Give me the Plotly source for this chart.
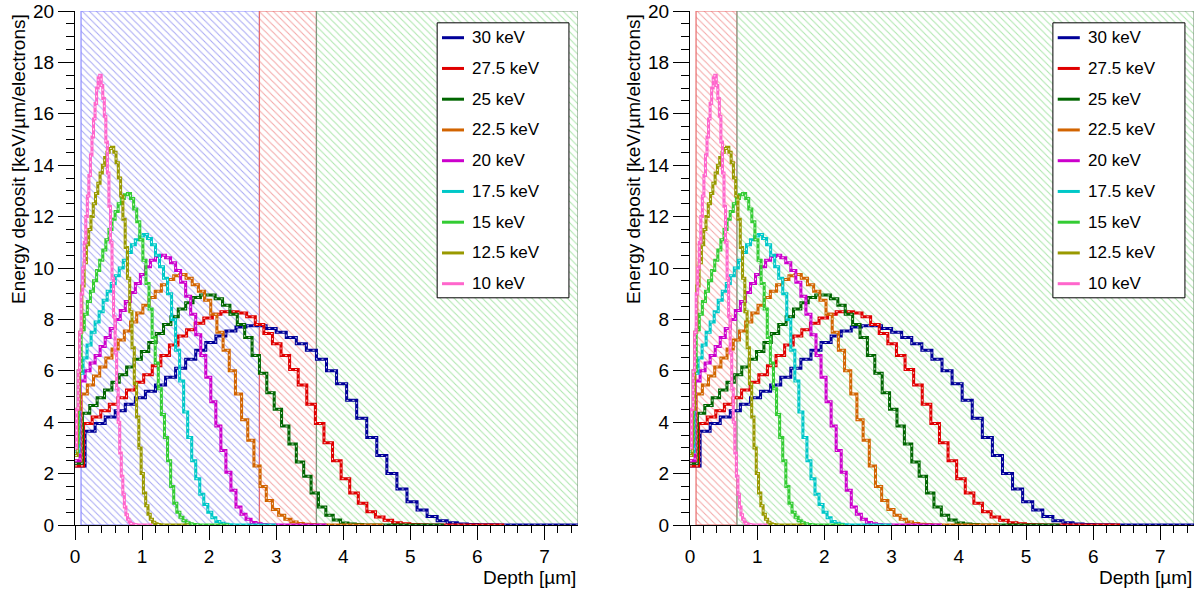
import plotly.graph_objects as go

# ---------------- data ----------------
energies = ["30 keV", "27.5 keV", "25 keV", "22.5 keV", "20 keV",
            "17.5 keV", "15 keV", "12.5 keV", "10 keV"]
colors = ["#000099", "#e00000", "#006600", "#d26400", "#cc00cc",
          "#00c8c8", "#33cc33", "#999900", "#ff66cc"]
# histogram bin widths (um), 50 bins each
bin_widths = [0.15, 0.128, 0.11, 0.092, 0.075, 0.06, 0.046, 0.034, 0.023]

dep_30 = [2.3, 3.65, 3.95, 4.2, 4.45, 4.7, 4.95, 5.2, 5.45, 5.75,
          6.1, 6.45, 6.8, 7.1, 7.35, 7.55, 7.7, 7.75, 7.75, 7.65,
          7.5, 7.3, 7.05, 6.8, 6.45, 6.0, 5.5, 4.85, 4.15, 3.4,
          2.7, 2.0, 1.4, 0.9, 0.58, 0.33, 0.17, 0.085, 0.04, 0.02,
          0.01, 0.005, 0, 0, 0, 0, 0, 0, 0, 0]
dep_27_5 = [2.3, 3.95, 4.2, 4.45, 4.7, 4.95, 5.25, 5.55, 5.85, 6.2,
            6.6, 7.0, 7.35, 7.6, 7.85, 8.05, 8.2, 8.3, 8.3, 8.25,
            8.1, 7.8, 7.45, 7.05, 6.6, 6.05, 5.45, 4.7, 3.95, 3.2,
            2.5, 1.8, 1.25, 0.85, 0.52, 0.31, 0.18, 0.09, 0.045, 0.02,
            0.01, 0, 0, 0, 0, 0, 0, 0, 0, 0]
dep_25 = [2.4, 4.35, 4.65, 4.95, 5.25, 5.55, 5.85, 6.15, 6.45, 6.75,
          7.1, 7.45, 7.8, 8.1, 8.4, 8.65, 8.85, 8.95, 8.95, 8.8,
          8.55, 8.2, 7.8, 7.3, 6.6, 5.9, 5.15, 4.5, 3.85, 3.15,
          2.45, 1.9, 1.25, 0.7, 0.38, 0.19, 0.08, 0.035, 0.015, 0,
          0, 0, 0, 0, 0, 0, 0, 0, 0, 0]
dep_22_5 = [2.5, 5.1, 5.45, 5.8, 6.15, 6.5, 6.85, 7.2, 7.55, 7.9,
            8.25, 8.55, 8.85, 9.1, 9.35, 9.55, 9.7, 9.75, 9.6, 9.35,
            9.1, 8.75, 8.2, 7.5, 6.8, 6.0, 5.1, 4.1, 3.3, 2.3,
            1.5, 0.95, 0.6, 0.38, 0.22, 0.12, 0.06, 0.03, 0.015, 0,
            0, 0, 0, 0, 0, 0, 0, 0, 0, 0]
dep_20 = [2.5, 5.6, 6.0, 6.3, 6.6, 6.95, 7.3, 7.65, 8.0, 8.35,
          8.7, 9.05, 9.4, 9.75, 10.05, 10.3, 10.45, 10.5, 10.4, 10.2,
          9.9, 9.45, 8.9, 8.2, 7.4, 6.6, 5.75, 4.8, 3.85, 2.9,
          2.05, 1.35, 0.7, 0.42, 0.22, 0.1, 0.05, 0.02, 0, 0,
          0, 0, 0, 0, 0, 0, 0, 0, 0, 0]
dep_17_5 = [2.85, 5.9, 6.5, 7.0, 7.5, 7.9, 8.3, 8.75, 9.1, 9.4,
            9.7, 10.0, 10.3, 10.6, 10.9, 11.1, 11.25, 11.3, 11.15, 10.9,
            10.5, 10.05, 9.6, 9.0, 8.0, 6.8, 5.6, 4.4, 3.4, 2.5,
            1.8, 1.2, 0.8, 0.5, 0.28, 0.14, 0.07, 0.03, 0.01, 0,
            0, 0, 0, 0, 0, 0, 0, 0, 0, 0]
dep_15 = [3.2, 6.0, 7.6, 8.2, 8.7, 9.1, 9.5, 9.9, 10.3, 10.7,
          11.1, 11.5, 11.9, 12.2, 12.5, 12.7, 12.85, 12.9, 12.7, 12.3,
          11.8, 11.1, 10.3, 9.4, 8.4, 7.3, 6.3, 5.3, 4.3, 3.4,
          2.5, 1.5, 0.85, 0.5, 0.3, 0.17, 0.09, 0.045, 0.02, 0.01,
          0, 0, 0, 0, 0, 0, 0, 0, 0, 0]
dep_12_5 = [2.7, 4.5, 7.5, 9.3, 10.2, 10.9, 11.5, 12.0, 12.5, 12.9,
            13.3, 13.7, 14.0, 14.3, 14.5, 14.65, 14.7, 14.5, 14.1, 13.5,
            12.8, 11.9, 10.8, 9.6, 8.3, 6.9, 5.5, 4.2, 3.0, 2.0,
            1.25, 0.75, 0.42, 0.22, 0.11, 0.05, 0.02, 0.01, 0, 0,
            0, 0, 0, 0, 0, 0, 0, 0, 0, 0]
dep_10 = [3.0, 4.5, 6.0, 7.5, 9.0, 10.0, 11.0, 12.0, 12.8, 13.6,
          14.4, 15.1, 15.8, 16.4, 17.0, 17.4, 17.5, 17.1, 16.6, 15.9,
          14.9, 13.7, 12.4, 11.0, 9.6, 8.1, 6.7, 5.3, 4.0, 2.8,
          1.9, 1.2, 0.7, 0.4, 0.22, 0.12, 0.06, 0.03, 0.015, 0.01,
          0, 0, 0, 0, 0, 0, 0, 0, 0, 0]
deposits = [dep_30, dep_27_5, dep_25, dep_22_5, dep_20,
            dep_17_5, dep_15, dep_12_5, dep_10]

# shaded depth regions (um)
left_region_edges = [0.09, 2.75, 3.6, 7.5]
right_region_edges = [0.09, 0.7, 7.5]

x_range = [0, 7.5]
y_range = [0, 20]
x_ticks = [0, 1, 2, 3, 4, 5, 6, 7]
y_ticks = [0, 2, 4, 6, 8, 10, 12, 14, 16, 18, 20]

# ---------------- styles ----------------
W, H = 1204, 592
FONT = "Liberation Sans, Arial, Helvetica, sans-serif"
region_styles = {
    "blue": dict(fg="#a8a8f4", border="#8c8cff"),
    "red": dict(fg="#f4a6a6", border="#e86c6c"),
    "green": dict(fg="#ace6ac", border="#809880"),
}
left_region_kinds = ["blue", "red", "green"]
right_region_kinds = ["red", "green"]

panels = [
    dict(xa="x", ya="y", px0=75, px1=578, edges=left_region_edges,
         kinds=left_region_kinds, ytitle_x=18),
    dict(xa="x2", ya="y2", px0=690, px1=1194, edges=right_region_edges,
         kinds=right_region_kinds, ytitle_x=633),
]
py_top, py_bot = 11, 525

fig = go.Figure()

for p in panels:
    # hatched regions
    for i, kind in enumerate(p["kinds"]):
        x0, x1 = p["edges"][i], p["edges"][i + 1]
        st = region_styles[kind]
        fig.add_trace(go.Scatter(
            x=[x0, x1, x1, x0, x0], y=[y_range[0], y_range[0], y_range[1], y_range[1], y_range[0]],
            xaxis=p["xa"], yaxis=p["ya"], mode="lines", fill="toself",
            fillcolor="white",
            fillpattern=dict(shape="\\", fgcolor=st["fg"], bgcolor="white",
                             size=5, solidity=0.2),
            line=dict(color=st["border"], width=1.2),
            hoverinfo="skip", showlegend=False))
    # histograms
    for name, col, w, vals in zip(energies, colors, bin_widths, deposits):
        xs = [i * w for i in range(len(vals) + 1)]
        ys = list(vals) + [vals[-1]]
        fig.add_trace(go.Scatter(
            x=xs, y=ys, xaxis=p["xa"], yaxis=p["ya"], mode="lines",
            line=dict(color=col, width=3, shape="hv"), name=name,
            showlegend=False))
        fig.add_trace(go.Scatter(
            x=xs, y=ys, xaxis=p["xa"], yaxis=p["ya"], mode="lines",
            line=dict(color="rgba(255,255,255,0.8)", width=1, shape="hv",
                      dash="2px,4px"),
            hoverinfo="skip", showlegend=False))

axis_common = dict(showgrid=False, zeroline=False, showline=True,
                   linecolor="black", linewidth=1, ticks="outside",
                   tickcolor="black", tickwidth=1, automargin=False,
                   tickfont=dict(family=FONT, size=19, color="black"))
ydom = [1 - py_bot / H, 1 - py_top / H]

layout = dict(
    template="none",
    width=W, height=H, margin=dict(l=0, r=0, t=0, b=0, pad=0),
    paper_bgcolor="white", plot_bgcolor="white", showlegend=False,
    font=dict(family=FONT, color="black"),
)
for k, p in enumerate(panels):
    sx = "" if k == 0 else str(k + 1)
    layout["xaxis" + sx] = dict(
        axis_common, domain=[p["px0"] / W, p["px1"] / W], range=x_range,
        anchor=p["ya"], tickvals=x_ticks, ticklen=14,
        minor=dict(dtick=0.2, ticklen=7, ticks="outside", tickcolor="black"))
    layout["yaxis" + sx] = dict(
        axis_common, domain=ydom, range=y_range, anchor=p["xa"],
        tickvals=y_ticks, ticklen=16,
        minor=dict(dtick=0.5, ticklen=8, ticks="outside", tickcolor="black"))
fig.update_layout(**layout)

shapes = []
annotations = []
for k, p in enumerate(panels):
    xd = p["xa"] + " domain"
    yd = p["ya"] + " domain"
    # legend box
    shapes.append(dict(type="rect", xref=xd, yref=yd, x0=0.72, x1=0.982,
                       y0=0.442, y1=0.977, fillcolor="white",
                       line=dict(color="black", width=1), layer="above"))
    for i, (name, col) in enumerate(zip(energies, colors)):
        yc = 1 - (26.7 + 30.75 * i) / (py_bot - py_top)
        shapes.append(dict(type="line", xref=xd, yref=yd, x0=0.7296,
                           x1=0.7734, y0=yc, y1=yc,
                           line=dict(color=col, width=3), layer="above"))
        annotations.append(dict(text=name, xref=xd, yref=yd, x=0.785, y=yc,
                                xanchor="left", yanchor="middle",
                                showarrow=False,
                                font=dict(family=FONT, size=17, color="black")))
    # axis titles
    annotations.append(dict(text="Energy deposit [keV/\u00b5m/electrons]",
                            xref="paper", yref="paper", x=p["ytitle_x"] / W,
                            y=1 - 12 / H, xanchor="center", yanchor="top",
                            textangle=-90, showarrow=False,
                            font=dict(family=FONT, size=19, color="black")))
    annotations.append(dict(text="Depth [\u00b5m]", xref="paper",
                            yref="paper", x=p["px1"] / W, y=1 - 577 / H,
                            xanchor="right", yanchor="middle",
                            showarrow=False,
                            font=dict(family=FONT, size=19, color="black")))
fig.update_layout(shapes=shapes, annotations=annotations)

fig.write_html("out.html", config={"displayModeBar": False},
               post_script="document.body.style.margin='0';")
